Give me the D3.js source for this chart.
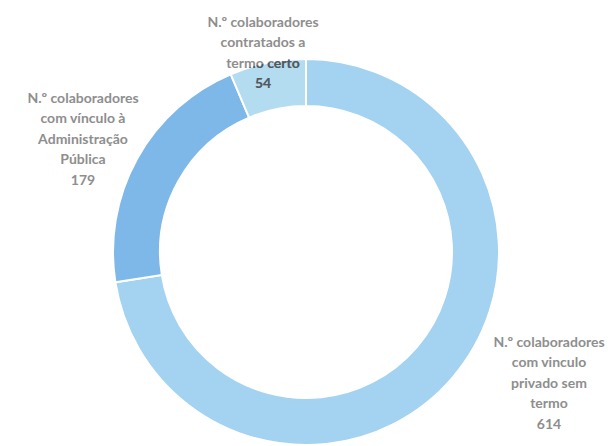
<!DOCTYPE html>
<html>
<head>
<meta charset="utf-8">
<script src="https://cdn.jsdelivr.net/npm/d3@7"></script>
<style>
  html, body { margin: 0; padding: 0; background: #fff; }
  svg { display: block; }
</style>
</head>
<body>
<svg id="chart" width="614" height="446"></svg>
<script>
// Staff by contract type
const categories = [
  "N.º colaboradores com vinculo privado sem termo",
  "N.º colaboradores com vínculo à Administração Pública",
  "N.º colaboradores contratados a termo certo"
];
const values = [614, 179, 54];
const sliceColors = ["#a3d3f0", "#7db8e8", "#b3dcf1"];

// Label text, one array of lines per slice
const labelLines = [
  ["N.º colaboradores", "com vinculo", "privado sem", "termo", "614"],
  ["N.º colaboradores", "com vínculo à", "Administração", "Pública", "179"],
  ["N.º colaboradores", "contratados a", "termo certo", "54"]
];
const labelAnchors = [[549, 342], [83, 98], [263, 22]];

const width = 614, height = 446;
const cx = 306, cy = 252;
const outerR = 193, innerR = 146;

const svg = d3.select("#chart");
const g = svg.append("g").attr("transform", `translate(${cx},${cy})`);

const pie = d3.pie().sort(null).value(d => d);
const arc = d3.arc().innerRadius(innerR).outerRadius(outerR);
const arcs = pie(values);

g.selectAll("path.slice")
  .data(arcs)
  .join("path")
  .attr("class", "slice")
  .attr("d", arc)
  .attr("fill", (d, i) => sliceColors[i])
  .attr("stroke", "#fff")
  .attr("stroke-width", 2);

// ring shape used to darken label text where it overlaps the ring
svg.append("clipPath").attr("id", "ringClip")
  .append("path")
  .attr("transform", `translate(${cx},${cy})`)
  .attr("d", d3.arc().innerRadius(innerR).outerRadius(outerR).startAngle(0).endAngle(2 * Math.PI)());

const lineH = 20.5;
function drawLabels(layer, color) {
  labelLines.forEach((lines, i) => {
    const [x, y] = labelAnchors[i];
    const t = layer.append("text")
      .attr("x", x)
      .attr("y", y)
      .attr("text-anchor", "middle")
      .attr("font-family", "Lato, 'Open Sans', sans-serif")
      .attr("font-weight", "bold")
      .attr("font-size", 14)
      .attr("fill", color);
    lines.forEach((ln, k) => {
      t.append("tspan")
        .attr("x", x)
        .attr("y", y + k * lineH)
        .attr("dy", "0.35em")
        .text(ln);
    });
  });
}

drawLabels(svg.append("g"), "#8e8e8e");
drawLabels(svg.append("g").attr("clip-path", "url(#ringClip)"), "#4f5a60");
</script>
</body>
</html>
